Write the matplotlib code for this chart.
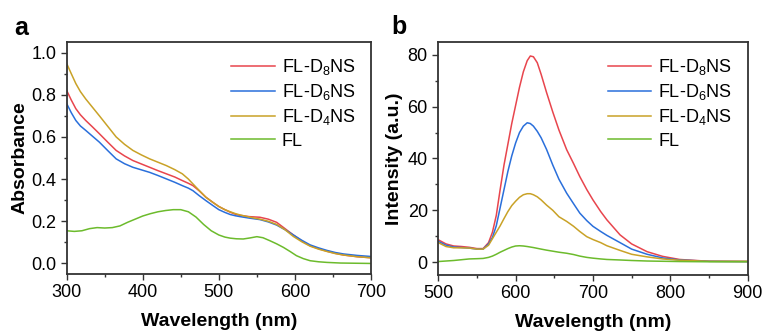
import numpy as np
import matplotlib
matplotlib.use('Agg')
import matplotlib.pyplot as plt
from matplotlib.ticker import MultipleLocator, FormatStrFormatter

plt.rcParams['font.family'] = ['Liberation Sans', 'DejaVu Sans']
plt.rcParams['mathtext.fontset'] = 'custom'
plt.rcParams['mathtext.rm'] = 'Liberation Sans'
plt.rcParams['mathtext.it'] = 'Liberation Sans'

# Panel a: absorbance
wl_abs = [300, 306, 312, 318, 325, 334, 343, 354, 365, 376, 387, 398, 409, 420, 431,
          442, 452, 460, 466, 474, 483, 492, 500, 508, 515, 522, 528, 540, 554, 565,
          576, 587, 598, 609, 620, 631, 642, 653, 664, 682, 700]
abs_d8 = [0.82, 0.775, 0.734, 0.705, 0.678, 0.647, 0.615, 0.575, 0.536, 0.51, 0.488,
          0.472, 0.456, 0.44, 0.425, 0.41, 0.393, 0.38, 0.369, 0.345, 0.314, 0.29,
          0.27, 0.255, 0.243, 0.233, 0.228, 0.222, 0.219, 0.21, 0.195, 0.165, 0.135,
          0.107, 0.084, 0.07, 0.058, 0.048, 0.04, 0.032, 0.027]
abs_d6 = [0.758, 0.715, 0.678, 0.652, 0.631, 0.603, 0.575, 0.535, 0.496, 0.473, 0.456,
          0.444, 0.432, 0.417, 0.401, 0.385, 0.369, 0.357, 0.345, 0.322, 0.298, 0.275,
          0.255, 0.242, 0.232, 0.226, 0.222, 0.215, 0.208, 0.197, 0.182, 0.16, 0.135,
          0.11, 0.088, 0.074, 0.062, 0.052, 0.045, 0.038, 0.033]
abs_d4 = [0.948, 0.9, 0.853, 0.815, 0.78, 0.74, 0.70, 0.65, 0.60, 0.565, 0.536, 0.515,
          0.496, 0.48, 0.464, 0.445, 0.425, 0.4, 0.377, 0.347, 0.314, 0.29, 0.27,
          0.255, 0.245, 0.236, 0.23, 0.22, 0.21, 0.2, 0.185, 0.16, 0.128, 0.103, 0.082,
          0.068, 0.057, 0.047, 0.04, 0.032, 0.027]
wl_fl = [300, 310, 320, 330, 340, 350, 360, 370, 380, 390, 400, 410, 420, 430, 440,
         450, 460, 470, 480, 490, 500, 508, 515, 523, 532, 541, 550, 558, 567, 576,
         585, 594, 602, 611, 620, 631, 642, 660, 680, 700]
abs_fl = [0.155, 0.152, 0.155, 0.165, 0.17, 0.168, 0.17, 0.178, 0.195, 0.21, 0.225,
          0.236, 0.245, 0.251, 0.255, 0.255, 0.245, 0.22, 0.185, 0.155, 0.135, 0.125,
          0.12, 0.117, 0.116, 0.121, 0.127, 0.122, 0.108, 0.093, 0.076, 0.056, 0.037,
          0.023, 0.013, 0.008, 0.005, 0.002, 0.001, 0.0]

# Panel b: emission
wl_em = [500, 510, 520, 530, 540, 550, 558, 565, 570, 575, 580, 585, 590, 595, 600,
         605, 610, 615, 619, 623, 628, 633, 640, 648, 656, 666, 675, 683, 692, 700,
         710, 718, 735, 750, 770, 790, 812, 850, 900]
em_d8 = [8.6, 7.0, 6.2, 6.0, 5.7, 5.2, 5.2, 7.5, 11.5, 18, 28, 37.5, 45.5, 53.5, 60.5,
         67.5, 73.5, 77.8, 79.6, 79.3, 77, 72.5, 65.5, 58, 51, 43.4, 38, 33, 28, 24,
         19.5, 16.3, 10.5, 7, 4, 2.2, 1.0, 0.3, 0.2]
em_d6 = [8.0, 6.5, 5.8, 5.6, 5.4, 5.0, 5.0, 7, 9.5, 14, 21, 28, 35, 41, 46,
         50, 52.5, 53.8, 53.5, 52.5, 50.5, 48, 43.5, 37.5, 32, 26.6, 22.5, 18.9, 16, 13.8,
         11.8, 10.3, 7.5, 5, 3, 1.6, 0.8, 0.3, 0.2]
em_d4 = [7.5, 6.0, 5.5, 5.5, 5.4, 5.0, 5.0, 6.5, 9.0, 11.5, 14, 16.8, 19.5, 21.8, 23.5,
         25, 26, 26.4, 26.4, 26, 25.2, 24, 22, 20, 17.5, 15.7, 13.8, 11.8, 9.8, 8.7,
         7.5, 6.3, 4.5, 3, 2, 1.2, 0.7, 0.3, 0.3]
em_fl = [0.2, 0.4, 0.6, 0.9, 1.2, 1.3, 1.4, 1.8, 2.3, 3, 3.8, 4.5, 5.2, 5.8, 6.2,
         6.3, 6.2, 6.0, 5.8, 5.6, 5.3, 5.0, 4.6, 4.2, 3.8, 3.4, 2.9, 2.3, 1.8, 1.5,
         1.2, 1.0, 0.8, 0.6, 0.4, 0.3, 0.2, 0.1, 0.1]

labels = ['FL-D$_8$NS', 'FL-D$_6$NS', 'FL-D$_4$NS', 'FL']
colors = ['#e8454d', '#2a6fdb', '#c9a227', '#6cbb2c']

fig = plt.figure(figsize=(7.63, 3.31), dpi=100)
ax1 = fig.add_axes([0.0874, 0.1722, 0.3988, 0.7009])
ax2 = fig.add_axes([0.5744, 0.1692, 0.4055, 0.7039])

for y, c, l in zip([abs_d8, abs_d6, abs_d4], colors[:3], labels[:3]):
    ax1.plot(wl_abs, y, color=c, lw=1.1, label=l)
ax1.plot(wl_fl, abs_fl, color=colors[3], lw=1.1, label=labels[3])

for y, c, l in zip([em_d8, em_d6, em_d4, em_fl], colors, labels):
    ax2.plot(wl_em, y, color=c, lw=1.1, label=l)

ax1.set_xlim(300, 700)
ax1.set_ylim(-0.05, 1.05)
ax1.xaxis.set_major_locator(MultipleLocator(100))
ax1.xaxis.set_minor_locator(MultipleLocator(50))
ax1.yaxis.set_major_locator(MultipleLocator(0.2))
ax1.yaxis.set_minor_locator(MultipleLocator(0.1))
ax1.yaxis.set_major_formatter(FormatStrFormatter('%.1f'))
ax1.set_ylabel('Absorbance', fontsize=14, fontweight='bold', labelpad=2)

ax2.set_xlim(500, 900)
ax2.set_ylim(-5, 85)
ax2.xaxis.set_major_locator(MultipleLocator(100))
ax2.xaxis.set_minor_locator(MultipleLocator(50))
ax2.yaxis.set_major_locator(MultipleLocator(20))
ax2.yaxis.set_minor_locator(MultipleLocator(10))
ax2.set_ylabel('Intensity (a.u.)', fontsize=14, fontweight='bold', labelpad=3)

for ax in (ax1, ax2):
    ax.set_xlabel('Wavelength (nm)', fontsize=14, fontweight='bold', labelpad=8)
    ax.tick_params(which='major', direction='out', length=4, width=1.0, labelsize=13,
                   top=False, right=False, color='#333333')
    ax.tick_params(which='minor', direction='out', length=2.5, width=1.0,
                   top=False, right=False, color='#333333')
    for s in ax.spines.values():
        s.set_linewidth(1.3)
        s.set_color('#333333')
    ax.legend(loc='upper right', frameon=False, fontsize=13, handlelength=2.4,
              handletextpad=0.4, labelspacing=0.28, borderaxespad=0.45)

fig.text(0.019, 0.893, 'a', fontsize=18, fontweight='bold')
fig.text(0.513, 0.898, 'b', fontsize=18, fontweight='bold')

fig.savefig('out.png', dpi=100)
